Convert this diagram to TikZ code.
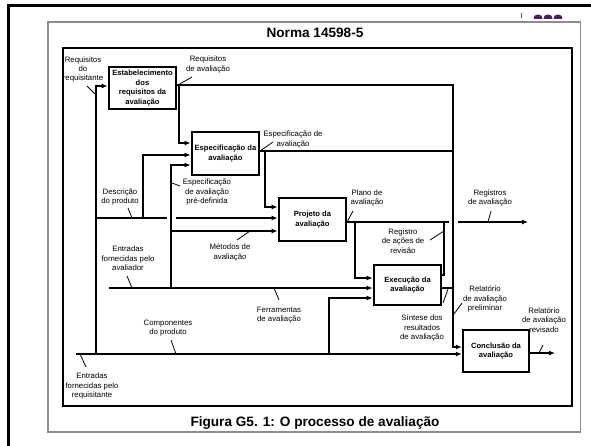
\documentclass[tikz,border=0pt]{standalone}
\usepackage{fontspec}
\setmainfont{Liberation Sans}
\usetikzlibrary{arrows.meta}
\definecolor{framegrey}{RGB}{140,140,140}
\definecolor{artpurple}{RGB}{70,30,100}
\begin{document}
\begin{tikzpicture}[x=1pt,y=-1pt,
  procbox/.style={draw, line width=2.8pt, inner sep=0pt, align=center,
    font=\bfseries\fontsize{7.6}{9.5}\selectfont, minimum width=67pt},
  conn/.style={line width=1.2pt},
  arr/.style={conn, -{Latex[length=6pt,width=5pt]}},
  lbl/.style={align=center, inner sep=0pt, font=\fontsize{7.8}{9.4}\selectfont},
  tick/.style={line width=0.8pt},
  heading/.style={anchor=base, inner sep=0pt, font=\bfseries\fontsize{13.6}{16}\selectfont}]
\useasboundingbox (0,0) rectangle (591,445);
\clip (0,0) rectangle (591,445);
\fill[white] (0,0) rectangle (591,445);

% cut-off marks at top right
\draw[line width=0.8pt, black!70] (521,13) -- (521,17.5);
\begin{scope}
\clip (525,10) rectangle (570,18);
\fill[artpurple] (538,18) ellipse [x radius=4.5pt, y radius=3.5pt];
\fill[artpurple] (548,18) ellipse [x radius=4.5pt, y radius=3.5pt];
\fill[artpurple] (558,18) ellipse [x radius=4.5pt, y radius=3.5pt];
\end{scope}

% page frames
\draw[line width=3pt] (8.5,460) -- (8.5,5.5) -- (600,5.5);
\draw[framegrey, line width=1.5pt] (48,22) rectangle (580.5,432);
\draw[line width=2pt] (63,48) rectangle (572,406);

% headings
\node[heading] (title) at (315,37) {Norma 14598-5};
\node[heading] (caption) at (315,426.5) {Figura G5. 1: O processo de avaliação};

% process boxes
\node[procbox, minimum height=42pt] (est) at (142.5,88) {Estabelecimento\\dos\\requisitos da\\avaliação};
\node[procbox, minimum height=43pt] (espec) at (225.5,153.5) {Especificação da\\avaliação};
\node[procbox, minimum height=43pt] (proj) at (312.5,219.5) {Projeto da\\avaliação};
\node[procbox, minimum height=40pt] (exec) at (407.5,285) {Execução da\\avaliação};
\node[procbox, minimum height=42pt, minimum width=66pt, line width=2.3pt] (concl) at (496,351) {Conclusão da\\avaliação};

% junction coordinates
\coordinate (reqbot) at (76,354);
\coordinate (reqv) at (96,354);
\coordinate (reqtop) at (96,86);
\coordinate (descA) at (96,218);
\coordinate (descB) at (167,218);
\coordinate (descC) at (176,218);
\coordinate (descUp) at (143,218);
\coordinate (descUpT) at (143,155);
\coordinate (compB) at (329,354);
\coordinate (avalL) at (109,288);
\coordinate (avalV) at (171,288);
\coordinate (avalT) at (171,165);
\coordinate (avalM) at (171,231);
\coordinate (busTop) at (453,85);
\coordinate (busBot) at (453,347);
\coordinate (estDown) at (179,85);
\coordinate (estDownB) at (179,143);
\coordinate (especBus) at (453,151);
\coordinate (especDown) at (265,151);
\coordinate (especDownB) at (265,207);
\coordinate (planEnd) at (449,222);
\coordinate (planDown) at (355,222);
\coordinate (planDownB) at (355,278);
\coordinate (regStart) at (458,222);
\coordinate (regEnd) at (528,222);
\coordinate (revR) at (444,275);
\coordinate (revT) at (444,222);
\coordinate (sintBus) at (453,288);
\coordinate (outEnd) at (555,353);

% inputs from requisitante
\draw[arr] (reqbot) -- (concl.west |- reqbot);
\draw[arr] (reqv) -- (reqtop) -- (est.west |- reqtop);
\draw[conn] (descA) -- (descB);
\draw[arr] (descC) -- (proj.west |- descC);
\draw[arr] (descUp) -- (descUpT) -- (espec.west |- descUpT);
\draw[arr] (compB) |- (exec.west |- 0,298);

% inputs from avaliador
\draw[arr] (avalL) -- (exec.west |- avalL);
\draw[arr] (avalV) -- (avalT) -- (espec.west |- avalT);
\draw[arr] (avalM) -- (proj.west |- avalM);

% outputs
\draw[arr] (est.east |- busTop) -- (busTop) -- (busBot) -- (concl.west |- busBot);
\draw[arr] (estDown) -- (estDownB) -- (espec.west |- estDownB);
\draw[conn] (espec.east |- especBus) -- (especBus);
\draw[arr] (especDown) -- (especDownB) -- (proj.west |- especDownB);
\draw[conn] (proj.east |- planEnd) -- (planEnd);
\draw[arr] (planDown) -- (planDownB) -- (exec.west |- planDownB);
\draw[arr] (regStart) -- (regEnd);
\draw[conn] (exec.east |- revR) -- (revR) -- (revT);
\draw[conn] (exec.east |- sintBus) -- (sintBus);
\draw[arr] (concl.east |- outEnd) -- (outEnd);

% labels
\node[lbl] (l1) at (83,69.5) {Requisitos\\do\\requisitante};
\node[lbl] (l2) at (208,64.5) {Requisitos\\de avaliação};
\node[lbl] (l3) at (293,139.5) {Especificação de\\avaliação};
\node[lbl] (l4) at (120,197) {Descrição\\do produto};
\node[lbl] (l5) at (207,192) {Especificação\\de avaliação\\pré-definida};
\node[lbl] (l6) at (230,252.5) {Métodos de\\avaliação};
\node[lbl] (l7) at (128,258.5) {Entradas\\fornecidas pelo\\avaliador};
\node[lbl] (l8) at (367,198) {Plano de\\avaliação};
\node[lbl] (l9) at (490,198) {Registros\\de avaliação};
\node[lbl] (l10) at (403,241) {Registro\\de ações de\\revisão};
\node[lbl] (l11) at (279,315) {Ferramentas\\de avaliação};
\node[lbl] (l12) at (168,328) {Componentes\\do produto};
\node[lbl] (l13) at (92,386) {Entradas\\fornecidas pelo\\requisitante};
\node[lbl] (l14) at (422,328) {Síntese dos\\resultados\\de avaliação};
\node[lbl] (l15) at (485,299) {Relatório\\de avaliação\\preliminar};
\node[lbl] (l16) at (544,320) {Relatório\\de avaliação\\revisado};

% label ticks
\draw[tick] (87,86) -- (95,94);
\draw[tick] (178,85) -- (192,77);
\draw[tick] (260,151) -- (273,142);
\draw[tick] (128,208) -- (132,218);
\draw[tick] (172,183) -- (180,186);
\draw[tick] (237,240) -- (250,231);
\draw[tick] (127,276) -- (132,288);
\draw[tick] (347,222) -- (353,211);
\draw[tick] (488,222) -- (491,211);
\draw[tick] (430,240) -- (444,231);
\draw[tick] (274,288) -- (279,300);
\draw[tick] (171,340) -- (176,354);
\draw[tick] (80,354) -- (86,367);
\draw[tick] (448,289) -- (443,303);
\draw[tick] (454,314) -- (462,303);
\draw[tick] (539,353) -- (543,345);
\end{tikzpicture}
\end{document}
